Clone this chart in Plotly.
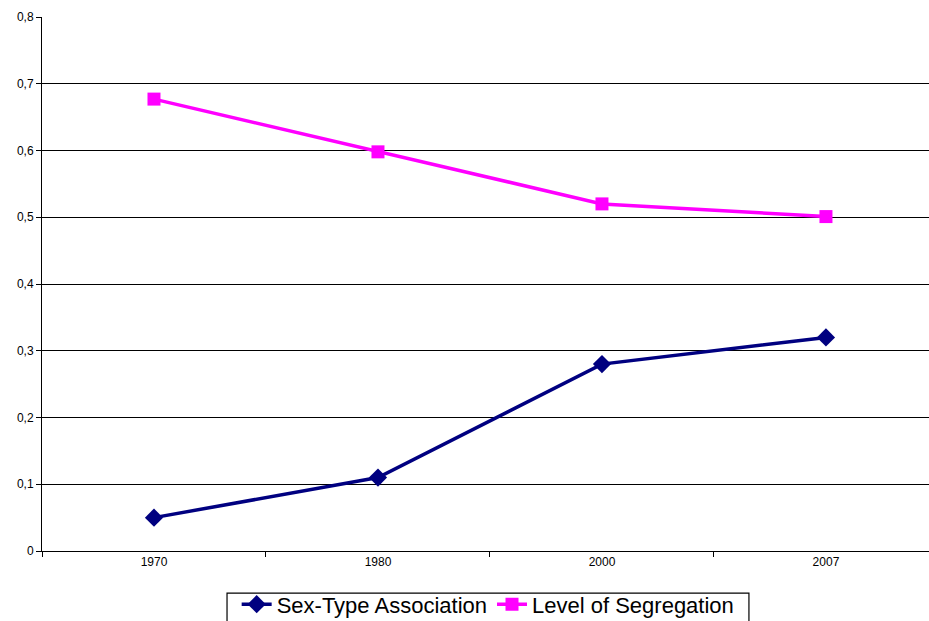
import plotly.graph_objects as go

years = ["1970", "1980", "2000", "2007"]
sex_type = [0.05, 0.11, 0.28, 0.32]
segregation = [0.677, 0.598, 0.52, 0.501]

fig = go.Figure()
fig.add_trace(go.Scatter(
    x=years, y=sex_type, name="Sex-Type Association", mode="lines+markers",
    line=dict(color="#000080", width=3.5),
    marker=dict(symbol="diamond", size=14, color="#000080"),
))
fig.add_trace(go.Scatter(
    x=years, y=segregation, name="Level of Segregation", mode="lines+markers",
    line=dict(color="#FF00FF", width=3.5),
    marker=dict(symbol="square", size=13, color="#FF00FF"),
))

# legend frame (drawn as a shape so it can sit tight around the text)
fig.add_shape(
    type="rect", xref="paper", yref="paper",
    x0=0.2086, x1=0.797, y0=-0.0787, y1=-0.16,
    line=dict(color="black", width=1.2), fillcolor="rgba(0,0,0,0)",
)

fig.update_layout(
    width=929, height=621,
    margin=dict(l=42, r=0, t=17, b=70, autoexpand=False),
    paper_bgcolor="white", plot_bgcolor="white",
    separators=",.",
    font=dict(family="Liberation Sans, Arial, sans-serif", color="black"),
    showlegend=True,
    legend=dict(
        orientation="h", x=0.503, xanchor="center", y=-0.0606, yanchor="top",
        borderwidth=0, bgcolor="rgba(0,0,0,0)", font=dict(size=22),
        itemwidth=30, tracegroupgap=0, traceorder="normal",
    ),
    xaxis=dict(
        type="category", range=[-0.5, 3.46], tickson="boundaries",
        ticks="outside", ticklen=5, tickcolor="black",
        showline=True, linecolor="black", linewidth=1,
        showgrid=False, tickfont=dict(size=12), fixedrange=True,
        automargin=False,
    ),
    yaxis=dict(
        range=[0, 0.8], dtick=0.1, tick0=0,
        ticks="outside", ticklen=5, tickcolor="black",
        showline=True, linecolor="black", linewidth=1,
        showgrid=True, gridcolor="black", gridwidth=1,
        zeroline=False, tickfont=dict(size=12), automargin=False,
    ),
)

fig.write_html(
    "out.html",
    config={"displayModeBar": False},
    post_script="document.body.style.margin='0';document.body.style.overflow='hidden';",
)
